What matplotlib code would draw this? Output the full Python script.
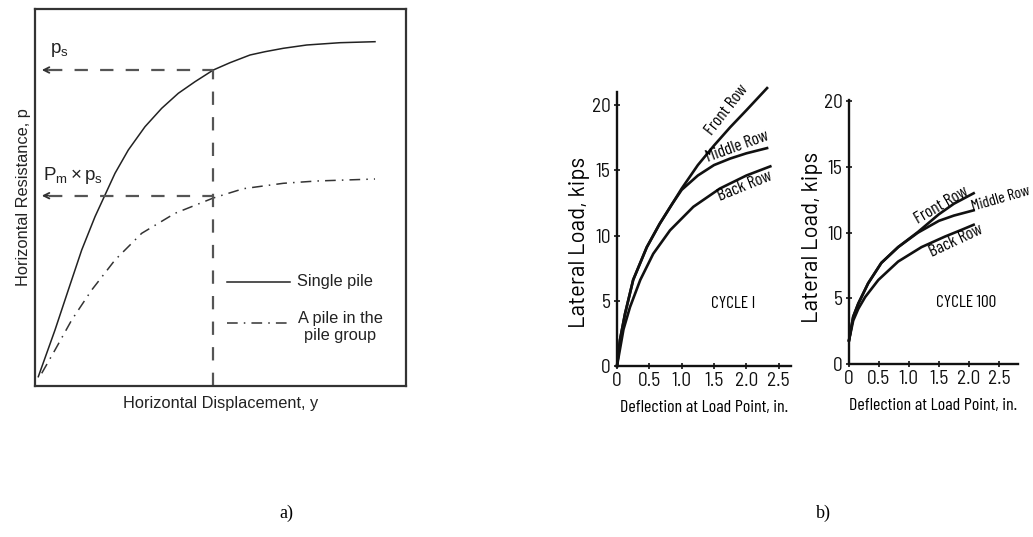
import matplotlib
matplotlib.use("Agg")
import matplotlib.pyplot as plt

plt.rcParams['mathtext.fontset'] = 'custom'
plt.rcParams['mathtext.rm'] = 'Liberation Sans'
plt.rcParams['mathtext.it'] = 'Liberation Sans'

W, H = 1033, 537

# ---------------- Panel a data (schematic, arbitrary units) ----------------
single_x = [3.3, 20, 33.3, 46.7, 60, 70, 80, 93.3, 110, 126.7, 143.3, 160, 178.3,
            195, 215, 230, 248.3, 271.7, 305, 340]
single_y = [9.3, 56, 96, 136, 169.3, 191, 212.7, 236, 259.3, 277.7, 292.7, 304.3, 316,
            323.3, 331, 334.3, 337.7, 341, 343.3, 344.3]
group_x = [6.7, 20, 36.7, 56.7, 80, 106.7, 140, 173.3, 178.3, 208.3, 248.3, 281.7, 340]
group_y = [12.7, 36, 66, 96, 126, 152.7, 172.7, 186, 188, 197.3, 202.7, 205, 207]
ps_level = 316
pm_level = 190.3
y_mark = 178.3

# ---------------- Panel b data ----------------
c1_front_x = [0, 0.046, 0.124, 0.25, 0.46, 0.66, 0.85, 1.0, 1.25, 1.5, 1.75, 2.0, 2.32]
c1_front_y = [0, 2.0, 4.0, 6.6, 9.1, 10.9, 12.4, 13.6, 15.4, 16.9, 18.3, 19.6, 21.3]
c1_mid_x = [0, 0.046, 0.124, 0.25, 0.46, 0.66, 0.85, 1.0, 1.25, 1.5, 1.75, 2.0, 2.32]
c1_mid_y = [0, 2.0, 4.0, 6.6, 9.1, 10.9, 12.4, 13.5, 14.6, 15.4, 15.9, 16.3, 16.7]
c1_back_x = [0, 0.1, 0.2, 0.36, 0.56, 0.82, 1.18, 1.59, 2.0, 2.37]
c1_back_y = [0, 2.8, 4.5, 6.6, 8.6, 10.4, 12.2, 13.6, 14.6, 15.3]

c100_front_x = [0, 0.07, 0.155, 0.32, 0.54, 0.82, 1.15, 1.5, 1.75, 2.08]
c100_front_y = [1.8, 3.6, 4.6, 6.15, 7.7, 8.9, 10.05, 11.4, 12.2, 13.0]
c100_mid_x = [0, 0.07, 0.155, 0.32, 0.54, 0.82, 1.15, 1.5, 1.75, 2.08]
c100_mid_y = [1.8, 3.6, 4.6, 6.15, 7.7, 8.9, 10.0, 10.9, 11.3, 11.7]
c100_back_x = [0, 0.07, 0.155, 0.27, 0.49, 0.82, 1.21, 1.6, 1.87, 2.08]
c100_back_y = [1.8, 3.3, 4.2, 5.1, 6.4, 7.8, 8.9, 9.7, 10.2, 10.6]

b_xticks = [0, 0.5, 1.0, 1.5, 2.0, 2.5]
b_xticklabels = ['0', '0.5', '1.0', '1.5', '2.0', '2.5']
b_yticks = [0, 5, 10, 15, 20]
b_yticklabels = ['0', '5', '10', '15', '20']

fig = plt.figure(figsize=(W / 100, H / 100), dpi=100)


def px_axes(l, t, r, b):
    return fig.add_axes([l / W, 1 - b / H, (r - l) / W, (b - t) / H])


# ---------------- Panel a ----------------
sans = ['Liberation Sans', 'DejaVu Sans']
axa = px_axes(35, 9, 406, 386)
axa.set_xlim(0, 371)
axa.set_ylim(0, 377)
axa.set_xticks([])
axa.set_yticks([])
for s in axa.spines.values():
    s.set_linewidth(1.6)
    s.set_color('#333333')

axa.plot(single_x, single_y, color='#222222', lw=1.1, solid_joinstyle='round')
axa.plot(group_x, group_y, color='#333333', lw=1.1, dashes=[7, 4, 1, 4])

dcol = '#555555'
dash = [6, 5.5]
axa.plot([14, y_mark], [ps_level, ps_level], color=dcol, lw=1.6, dashes=dash)
axa.plot([14, y_mark], [pm_level, pm_level], color=dcol, lw=1.6, dashes=dash)
axa.plot([y_mark, y_mark], [0, ps_level], color=dcol, lw=1.6, dashes=dash)
for lev in (ps_level, pm_level):
    axa.annotate('', xy=(4, lev), xytext=(16, lev),
                 arrowprops=dict(arrowstyle='->', color='#333333', lw=1.3,
                                 mutation_scale=10))

axa.text(15, 336, r'$\mathregular{p_s}$', fontsize=13.5, family=sans, color='#222222',
         va='center', ha='left')
axa.text(8, 210, r'$\mathregular{P_m \times p_s}$', fontsize=13.5, family=sans,
         color='#222222', va='center', ha='left')

axa.plot([192, 255], [104.3, 104.3], color='#222222', lw=1.1)
axa.plot([192, 252], [62.7, 62.7], color='#333333', lw=1.1, dashes=[7, 4, 1, 4])
axa.text(262, 104.3, 'Single pile', fontsize=11.8, family=sans, va='center', ha='left',
         color='#222222')
axa.text(305, 59, 'A pile in the\npile group', fontsize=11.8, family=sans, va='center',
         ha='center', color='#222222', linespacing=1.15)

axa.set_xlabel('Horizontal Displacement, y', fontsize=11.8, family=sans, color='#222222',
               labelpad=7)
axa.set_ylabel('Horizontal Resistance, p', fontsize=11.8, family=sans, color='#222222',
               labelpad=3)

# ---------------- Panel b ----------------
nar = ['Barlow Condensed', 'Archivo Narrow', 'DejaVu Sans']
semi = ['Barlow Semi Condensed', 'Barlow Condensed', 'DejaVu Sans']
wide = ['Barlow', 'DejaVu Sans']


def style_b(ax, lab_xy):
    for side in ('top', 'right'):
        ax.spines[side].set_visible(False)
    for side in ('left', 'bottom'):
        ax.spines[side].set_linewidth(1.7)
        ax.spines[side].set_color('#111111')
    ax.set_xticks(b_xticks)
    ax.set_xticklabels(b_xticklabels)
    ax.set_yticks(b_yticks)
    ax.set_yticklabels(b_yticklabels)
    ax.tick_params(axis='both', direction='inout', length=5, width=1.2, colors='#111111',
                   labelsize=14, pad=2)
    for lab in ax.get_xticklabels() + ax.get_yticklabels():
        lab.set_family(semi)
    ax.set_xlabel('Deflection at Load Point, in.', fontsize=13, family=nar, labelpad=7)
    ax.set_ylabel('Lateral Load, kips', fontsize=16, family=wide)
    ax.yaxis.set_label_coords(*lab_xy)


axb1 = px_axes(617, 92, 791, 366)
axb1.set_xlim(0, 2.69)
axb1.set_ylim(0, 21)
style_b(axb1, (-0.154, 0.45))
for xs, ys in ((c1_front_x, c1_front_y), (c1_mid_x, c1_mid_y), (c1_back_x, c1_back_y)):
    axb1.plot(xs, ys, color='#111111', lw=1.9, clip_on=False, solid_joinstyle='round')
axb1.text(1.70, 19.6, 'Front Row', rotation=52, fontsize=12.5, family=nar, ha='center', va='center')
axb1.text(1.86, 16.8, 'Middle Row', rotation=20, fontsize=12.5, family=nar, ha='center', va='center')
axb1.text(1.98, 13.8, 'Back Row', rotation=22, fontsize=12.5, family=nar, ha='center', va='center')
axb1.text(1.80, 4.8, 'CYCLE I', fontsize=12.5, family=nar, ha='center', va='center')

axb2 = px_axes(849, 100, 1018, 364)
axb2.set_xlim(0, 2.82)
axb2.set_ylim(0, 20.1)
style_b(axb2, (-0.154, 0.48))
for xs, ys in ((c100_front_x, c100_front_y), (c100_mid_x, c100_mid_y), (c100_back_x, c100_back_y)):
    axb2.plot(xs, ys, color='#111111', lw=1.9, clip_on=False, solid_joinstyle='round')
axb2.text(1.54, 12.1, 'Front Row', rotation=30, fontsize=12.5, family=nar, ha='center', va='center')
axb2.text(2.54, 12.6, 'Middle Row', rotation=16, fontsize=11.5, family=nar, ha='center', va='center')
axb2.text(1.79, 9.35, 'Back Row', rotation=25, fontsize=12.5, family=nar, ha='center', va='center')
axb2.text(1.96, 4.7, 'CYCLE 100', fontsize=12.5, family=nar, ha='center', va='center')

# ---------------- captions ----------------
serif = ['Liberation Serif', 'DejaVu Serif']
fig.text(286 / W, 1 - 513 / H, 'a)', fontsize=13, family=serif, ha='center', va='center')
fig.text(823 / W, 1 - 513 / H, 'b)', fontsize=13, family=serif, ha='center', va='center')

fig.savefig('out.png', dpi=100)
